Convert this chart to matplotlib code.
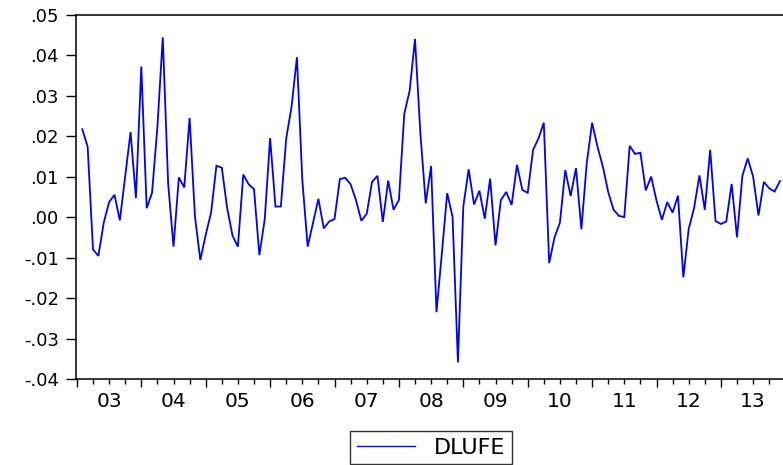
import matplotlib
matplotlib.use("Agg")
import matplotlib.pyplot as plt
from matplotlib.ticker import FixedLocator, FuncFormatter, NullFormatter
import numpy as np
import pandas as pd

start_month = "2003-02"
series_name = "DLUFE"
dlufe = [
    0.0217, 0.0174, -0.0080, -0.0096, -0.0014, 0.0037, 0.0055, -0.0008, 0.0102, 0.0210,
    0.0047, 0.0372, 0.0022, 0.0060, 0.0223, 0.0444, 0.0083, -0.0073, 0.0098, 0.0073,
    0.0245, 0.0001, -0.0106, -0.0044, 0.0011, 0.0127, 0.0122, 0.0022, -0.0046, -0.0073,
    0.0105, 0.0081, 0.0069, -0.0094, -0.0005, 0.0195, 0.0026, 0.0026, 0.0194, 0.0273,
    0.0395, 0.0092, -0.0073, -0.0014, 0.0045, -0.0028, -0.0011, -0.0005, 0.0094, 0.0097,
    0.0081, 0.0042, -0.0009, 0.0008, 0.0087, 0.0102, -0.0012, 0.0090, 0.0018, 0.0042,
    0.0255, 0.0312, 0.0440, 0.0207, 0.0034, 0.0126, -0.0235, -0.0090, 0.0059, 0.0000,
    -0.0359, 0.0026, 0.0118, 0.0031, 0.0065, -0.0004, 0.0095, -0.0070, 0.0042, 0.0062,
    0.0030, 0.0129, 0.0067, 0.0060, 0.0166, 0.0194, 0.0233, -0.0114, -0.0050, -0.0014,
    0.0116, 0.0052, 0.0121, -0.0030, 0.0133, 0.0233, 0.0174, 0.0125, 0.0062, 0.0018,
    0.0003, 0.0000, 0.0176, 0.0156, 0.0159, 0.0066, 0.0100, 0.0041, -0.0007, 0.0037,
    0.0011, 0.0053, -0.0149, -0.0029, 0.0022, 0.0103, 0.0018, 0.0166, -0.0010, -0.0017,
    -0.0011, 0.0082, -0.0050, 0.0102, 0.0145, 0.0100, 0.0004, 0.0087, 0.0071, 0.0063,
    0.0089,
]
year_labels = ["03", "04", "05", "06", "07", "08", "09", "10", "11", "12", "13"]
y_ticks = [0.05, 0.04, 0.03, 0.02, 0.01, 0.00, -0.01, -0.02, -0.03, -0.04]

periods = pd.period_range(start_month, periods=len(dlufe), freq="M")
xdec = np.array([p.year + (p.month - 1) / 12.0 for p in periods])

plt.rcParams["font.family"] = ["DejaVu Sans"]

W, H = 783, 465
fig = plt.figure(figsize=(W / 100, H / 100), dpi=100)
left_px, right_px, top_px, bot_px = 75.5, 783.0, 14.7, 379.0
ax = fig.add_axes([left_px / W, 1 - bot_px / H, (right_px - left_px) / W, (bot_px - top_px) / H])

ax.plot(xdec, dlufe, color="#0000FF", lw=1.3, solid_joinstyle="miter")

first_year = 2003
x0 = first_year + (left_px - 76.9) / 64.4
x1 = first_year + (right_px - 76.9) / 64.4
ax.set_xlim(x0, x1)
ax.set_ylim(-0.04, 0.05)

# spines
ax.spines["right"].set_visible(False)
for s in ["left", "top", "bottom"]:
    ax.spines[s].set_linewidth(1.1)
    ax.spines[s].set_color("black")

# y axis
ax.yaxis.set_major_locator(FixedLocator(y_ticks))
def yfmt(v, pos):
    s = "%.2f" % v
    if s.startswith("-0"):
        return "-" + s[2:]
    if s.startswith("0"):
        return s[1:]
    return s
ax.yaxis.set_major_formatter(FuncFormatter(yfmt))
ax.tick_params(axis="y", which="major", left=True, right=False, direction="out",
               length=7.0, width=1.0, pad=5.0, labelsize=13, colors="black")

# x axis: year boundaries as major, quarters as minor; labels at mid-year
years = [first_year + i for i in range(len(year_labels) + 1)]
ax.xaxis.set_major_locator(FixedLocator(years))
ax.xaxis.set_major_formatter(NullFormatter())
quarters = [y + q / 4 for y in years for q in (1, 2, 3)]
ax.xaxis.set_minor_locator(FixedLocator(quarters))
def xfmt(v, pos):
    yr = int(np.floor(v + 1e-9))
    frac = v - yr
    if abs(frac - 0.5) < 1e-6 and 0 <= yr - first_year < len(year_labels):
        return year_labels[yr - first_year]
    return ""
ax.xaxis.set_minor_formatter(FuncFormatter(xfmt))
ax.tick_params(axis="x", which="major", bottom=True, top=False, direction="out",
               length=5.8, width=1.0)
ax.tick_params(axis="x", which="minor", bottom=True, top=False, direction="out",
               length=3.3, width=1.0, pad=6.0, labelsize=14.5, colors="black")

leg = fig.legend([ax.lines[0]], [series_name], loc="center",
                 bbox_to_anchor=(431 / W, 1 - 447.5 / H), fontsize=16,
                 frameon=True, fancybox=False, edgecolor="black",
                 handlelength=2.6, handletextpad=0.85, borderpad=0.3, borderaxespad=0)
leg.get_frame().set_linewidth(1.0)
leg.legend_handles[0].set_linewidth(1.0)

fig.savefig("out.png", dpi=100)
